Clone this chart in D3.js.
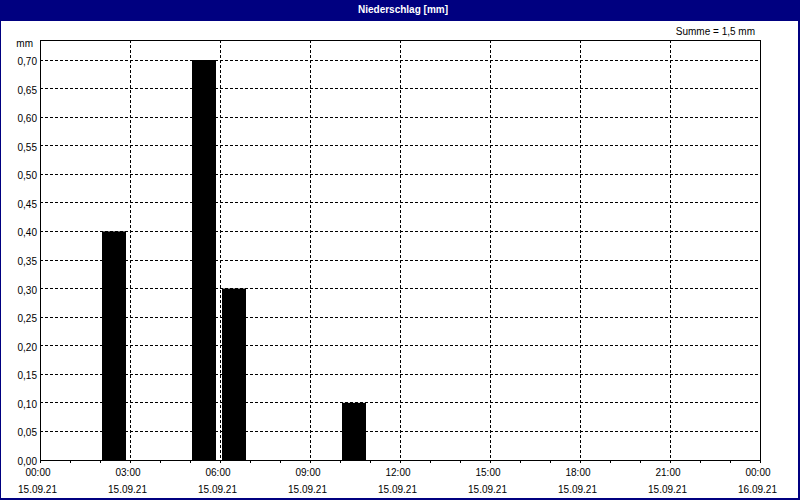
<!DOCTYPE html>
<html>
<head>
	<meta charset="utf-8">
	<title>Niederschlag [mm]</title>
	<style>
		body { margin: 0; background: #fff; }
		svg { display: block; font-family: "Liberation Sans", Arial, sans-serif; font-size: 10px; }
		.grid line { stroke: #000; stroke-dasharray: 3,2; shape-rendering: crispEdges; }
		.frame { fill: none; stroke: #000; shape-rendering: crispEdges; }
		.axis path { display: none; }
		.axis line { stroke: #000; shape-rendering: crispEdges; }
	</style>
	<script src="https://cdn.jsdelivr.net/npm/d3@7"></script>
</head>
<body>
	<svg width="800" height="500"></svg>
	<script>

		// Niederschlag pro Stunde (Stundenbeginn), 15.09.21
		var barHours = [2, 5, 6, 10];
		var barValues = [0.40, 0.70, 0.30, 0.10];

		var yTicks = [0, 0.05, 0.10, 0.15, 0.20, 0.25, 0.30, 0.35, 0.40, 0.45, 0.50, 0.55, 0.60, 0.65, 0.70];
		var labelHours = [0, 3, 6, 9, 12, 15, 18, 21, 24];
		var timeLabels = ["00:00", "03:00", "06:00", "09:00", "12:00", "15:00", "18:00", "21:00", "00:00"];
		var dateLabels = ["15.09.21", "15.09.21", "15.09.21", "15.09.21", "15.09.21", "15.09.21", "15.09.21", "15.09.21", "16.09.21"];
		var summe = "Summe = 1,5 mm";
		var titel = "Niederschlag [mm]";

		var svg = d3.select("svg"),
		    W = +svg.attr("width"),
		    H = +svg.attr("height"),
		    pL = 40, pR = 760, pT = 40, pB = 460;

		var x = d3.scaleLinear().domain([0, 24]).range([pL, pR]);
		var xb = d3.scaleBand()
		    .domain(d3.range(24))
		    .range([pL, pR])
		    .paddingInner(0.2)
		    .paddingOuter(0.1)
		    .align(0.33);
		var y = d3.scaleLinear().domain([0, 0.735]).range([pB, pT]);

		var fmt = function(v) { return d3.format(".2f")(v).replace(".", ","); };

		svg.append("rect").attr("width", W).attr("height", H).attr("fill", "#fff");

		// grid
		var grid = svg.append("g").attr("class", "grid");
		grid.selectAll("line.h")
		    .data(yTicks.filter(function(d) { return d > 0; }))
		    .enter().append("line")
		      .attr("class", "h")
		      .attr("x1", pL).attr("x2", pR)
		      .attr("y1", function(d) { return y(d); })
		      .attr("y2", function(d) { return y(d); });
		grid.selectAll("line.v")
		    .data(labelHours.filter(function(d) { return d > 0 && d < 24; }))
		    .enter().append("line")
		      .attr("class", "v")
		      .attr("y1", pT).attr("y2", pB + 3)
		      .attr("x1", function(d) { return x(d); })
		      .attr("x2", function(d) { return x(d); });

		// bars
		svg.append("g")
		    .selectAll("rect")
		    .data(barHours)
		    .enter().append("rect")
		      .attr("x", function(d) { return Math.round(xb(d)); })
		      .attr("y", function(d, i) { return y(barValues[i]); })
		      .attr("width", xb.bandwidth())
		      .attr("height", function(d, i) { return y(0) - y(barValues[i]); })
		      .attr("fill", "#000");

		// hour ticks
		svg.append("g")
		    .attr("class", "axis")
		    .attr("transform", "translate(0," + pB + ")")
		    .call(d3.axisBottom(x).tickValues(d3.range(0, 25)).tickSize(3).tickFormat(""));

		svg.append("rect")
		    .attr("class", "frame")
		    .attr("x", pL).attr("y", pT)
		    .attr("width", pR - pL).attr("height", pB - pT);

		// y labels
		svg.append("g")
		    .attr("text-anchor", "end")
		    .selectAll("text")
		    .data(yTicks)
		    .enter().append("text")
		      .attr("x", 37)
		      .attr("y", function(d) { return y(d); })
		      .attr("dy", "0.5em")
		      .text(fmt);

		svg.append("text")
		    .attr("x", 33).attr("y", 47)
		    .attr("text-anchor", "end")
		    .text("mm");

		// x labels
		var xl = svg.append("g").attr("text-anchor", "middle");
		xl.selectAll("text.t")
		    .data(labelHours)
		    .enter().append("text")
		      .attr("class", "t")
		      .attr("x", function(d) { return x(d) - 2; })
		      .attr("y", 476)
		      .text(function(d, i) { return timeLabels[i]; });
		xl.selectAll("text.d")
		    .data(labelHours)
		    .enter().append("text")
		      .attr("class", "d")
		      .attr("x", function(d) { return x(d) - 2.5; })
		      .attr("y", 492.5)
		      .text(function(d, i) { return dateLabels[i]; });

		svg.append("text")
		    .attr("x", 755).attr("y", 34.5)
		    .attr("text-anchor", "end")
		    .text(summe);

		// title bar + frame
		svg.append("rect").attr("x", 0).attr("y", 0).attr("width", W).attr("height", 21).attr("fill", "#000080");
		svg.append("text")
		    .attr("x", 403).attr("y", 13)
		    .attr("text-anchor", "middle")
		    .attr("fill", "#fff")
		    .attr("font-weight", "bold")
		    .text(titel);
		svg.append("rect").attr("x", 0).attr("y", 0).attr("width", 1).attr("height", H).attr("fill", "#000080");
		svg.append("rect").attr("x", W - 2).attr("y", 0).attr("width", 2).attr("height", H).attr("fill", "#000080");
		svg.append("rect").attr("x", 0).attr("y", H - 2).attr("width", W).attr("height", 2).attr("fill", "#000080");

	</script>
</body>
</html>
